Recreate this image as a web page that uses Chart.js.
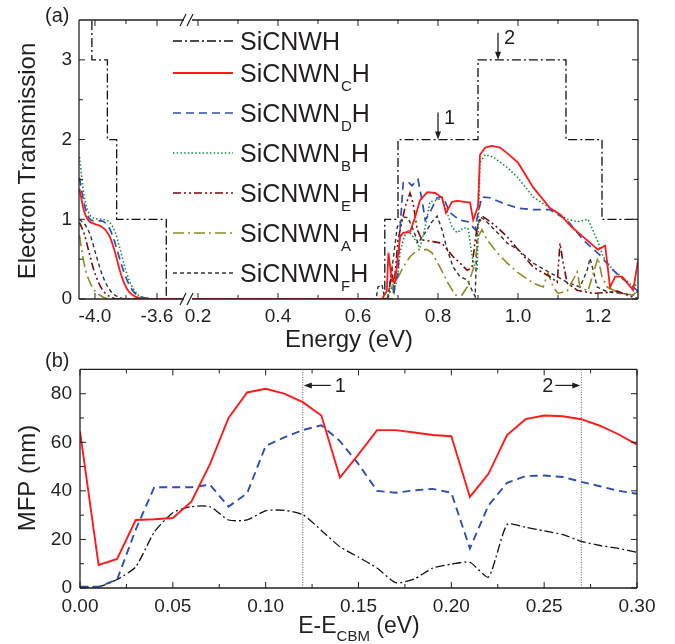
<!DOCTYPE html>
<html>
<head>
<meta charset="utf-8">
<script src="https://cdn.jsdelivr.net/npm/chart.js@4.4.0/dist/chart.umd.min.js"></script>
<style>
  body { margin: 0; background: #fff; }
  #wrap { position: relative; width: 675px; height: 644px; }
  canvas { position: absolute; left: 0; }
</style>
</head>
<body>
<div id="wrap">
  <canvas id="tb" width="675" height="294" style="top:350px"></canvas>
  <canvas id="ta" width="675" height="362" style="top:0"></canvas>
</div>
<script>
Chart.defaults.font.family = "'Liberation Sans', Arial, sans-serif";
Chart.defaults.color = '#231f20';

// ---- panel (a): electron transmission, energy axis broken in two ----
// left part of the energy axis (eV)
const hLeft = [[-4.02,3.7],[-4.02,3],[-3.92,3],[-3.92,2],[-3.86,2],[-3.86,1],[-3.54,1],[-3.54,0],[-3.42,0]]
const cLeft = [[-4.10,1.38],[-4.07,1.1],[-4.04,0.98],[-4.0,0.94],[-3.96,0.91],[-3.93,0.86],[-3.90,0.76],[-3.87,0.58],[-3.84,0.36],[-3.81,0.19],[-3.78,0.09],[-3.74,0.03],[-3.70,0.01],[-3.65,0],[-3.42,0]]
const dLeft = [[-4.10,1.52],[-4.07,1.2],[-4.04,1.02],[-4.0,0.98],[-3.96,0.98],[-3.93,0.95],[-3.90,0.86],[-3.87,0.7],[-3.84,0.5],[-3.81,0.32],[-3.78,0.18],[-3.75,0.09],[-3.71,0.03],[-3.66,0.01],[-3.6,0],[-3.42,0]]
const bLeft = [[-4.10,1.78],[-4.07,1.3],[-4.04,1.08],[-4.0,1.01],[-3.96,1.0],[-3.93,0.99],[-3.90,0.95],[-3.87,0.84],[-3.84,0.64],[-3.81,0.42],[-3.78,0.24],[-3.75,0.12],[-3.72,0.05],[-3.68,0.01],[-3.64,0],[-3.42,0]]
const eLeft = [[-4.10,0.96],[-4.07,0.82],[-4.04,0.6],[-4.01,0.38],[-3.98,0.22],[-3.95,0.11],[-3.92,0.05],[-3.88,0.01],[-3.84,0],[-3.42,0]]
const aLeft = [[-4.10,0.8],[-4.08,0.55],[-4.06,0.36],[-4.03,0.2],[-4.0,0.1],[-3.97,0.05],[-3.93,0.01],[-3.88,0],[-3.42,0]]
const fLeft = [[-4.10,1.0],[-4.06,0.92],[-4.03,0.8],[-4.0,0.6],[-3.97,0.4],[-3.94,0.24],[-3.91,0.13],[-3.88,0.06],[-3.84,0.02],[-3.8,0],[-3.42,0]]

// right part of the energy axis (eV)
const hRight = [[0.18,0],[0.667,0],[0.667,1],[0.70,1],[0.70,2],[0.90,2],[0.90,3],[1.12,3],[1.12,2],[1.21,2],[1.21,1],[1.31,1]]
const cRight = [[0.18,0],[0.66,0],[0.672,0.1],[0.676,0.58],[0.685,0.22],[0.693,0.22],[0.705,0.78],[0.713,0.83],[0.73,0.84],[0.743,1.03],[0.755,1.24],[0.773,1.34],[0.793,1.33],[0.81,1.27],[0.82,1.08],[0.835,1.22],[0.848,1.23],[0.88,1.21],[0.888,0.99],[0.9,1.16],[0.905,1.81],[0.918,1.9],[0.935,1.92],[0.955,1.9],[0.973,1.83],[1.0,1.71],[1.038,1.4],[1.08,1.14],[1.105,1.06],[1.135,0.9],[1.163,0.78],[1.2,0.62],[1.218,0.67],[1.23,0.15],[1.243,0.28],[1.26,0.28],[1.288,0.11],[1.3,0.48]]
const dRight = [[0.18,0],[0.685,0],[0.70,0.33],[0.705,0.87],[0.713,1.46],[0.725,1.47],[0.735,1.42],[0.743,1.47],[0.75,1.5],[0.76,1.24],[0.768,0.99],[0.78,1.09],[0.798,1.27],[0.813,1.28],[0.83,1.08],[0.855,0.99],[0.875,0.97],[0.893,0.87],[0.9,1.08],[0.91,1.28],[0.93,1.27],[0.963,1.2],[1.0,1.14],[1.038,1.12],[1.08,1.12],[1.123,0.99],[1.163,0.74],[1.205,0.55],[1.23,0.4],[1.255,0.28],[1.288,0.15],[1.3,0.1]]
const bRight = [[0.18,0],[0.67,0],[0.68,0.1],[0.69,0.2],[0.7,0.3],[0.705,0.58],[0.713,0.74],[0.723,0.87],[0.738,0.78],[0.755,0.64],[0.768,0.9],[0.78,1.22],[0.798,1.24],[0.81,1.27],[0.823,1.08],[0.835,0.9],[0.848,0.83],[0.863,0.89],[0.875,0.89],[0.888,0.45],[0.898,0.36],[0.905,1.71],[0.918,1.81],[0.938,1.78],[0.973,1.65],[1.0,1.52],[1.038,1.28],[1.08,1.14],[1.123,1.0],[1.148,0.97],[1.175,1.0],[1.198,0.74],[1.213,0.53],[1.238,0.36],[1.27,0.24],[1.288,0.15],[1.3,0.2]]
const eRight = [[0.18,0],[0.675,0],[0.685,0.36],[0.69,0.15],[0.70,0.74],[0.718,1.16],[0.73,1.33],[0.738,1.2],[0.748,0.87],[0.76,0.74],[0.788,0.72],[0.81,0.7],[0.823,0.62],[0.838,0.53],[0.855,0.45],[0.873,0.36],[0.885,0.39],[0.893,0.74],[0.9,0.95],[0.913,1.03],[0.925,0.99],[0.948,0.9],[0.973,0.78],[1.0,0.62],[1.038,0.4],[1.08,0.28],[1.098,0.21],[1.105,0.7],[1.113,0.45],[1.123,0.2],[1.148,0.11],[1.188,0.07],[1.22,0.08],[1.248,0.1],[1.288,0.02],[1.3,0.01]]
const aRight = [[0.18,0],[0.675,0],[0.685,0.15],[0.69,0.08],[0.698,0.25],[0.713,0.4],[0.73,0.53],[0.75,0.62],[0.773,0.62],[0.785,0.58],[0.805,0.4],[0.825,0.2],[0.843,0.05],[0.86,0.05],[0.873,0.15],[0.885,0.33],[0.893,0.45],[0.9,0.78],[0.91,0.87],[0.923,0.74],[0.948,0.58],[0.973,0.45],[1.0,0.33],[1.038,0.2],[1.063,0.15],[1.075,0.33],[1.088,0.15],[1.1,0.07],[1.123,0.1],[1.148,0.34],[1.155,0.15],[1.175,0.1],[1.2,0.52],[1.21,0.28],[1.223,0.15],[1.255,0.07],[1.288,0.05],[1.3,0.11]]
const fRight = [[0.18,0],[0.645,0],[0.65,0.15],[0.66,0.18],[0.665,0.05],[0.675,0.02],[0.688,0.5],[0.698,0.9],[0.713,1.03],[0.725,1.02],[0.738,0.87],[0.75,0.7],[0.773,0.87],[0.785,0.97],[0.798,1.04],[0.81,0.87],[0.823,0.62],[0.838,0.4],[0.855,0.28],[0.873,0.24],[0.885,0.11],[0.893,0.03],[0.898,0.87],[0.905,1.03],[0.918,0.99],[0.935,0.9],[0.955,0.8],[0.973,0.7],[1.0,0.62],[1.038,0.45],[1.08,0.33],[1.123,0.21],[1.155,0.15],[1.173,0.36],[1.18,0.51],[1.188,0.36],[1.198,0.15],[1.223,0.09],[1.26,0.07],[1.288,0.05],[1.3,0.1]]

const tTicks = [0, 0.5, 1, 1.5, 2, 2.5, 3]
const leftTicks = [-4.0, -3.8, -3.6]
const leftLabels = [-4.0, -3.6]
const rightTicks = [0.2, 0.3, 0.4, 0.5, 0.6, 0.7, 0.8, 0.9, 1.0, 1.1, 1.2]
const rightLabels = [0.2, 0.4, 0.6, 0.8, 1.0, 1.2]

// ---- panel (b): mean free path ----
const dE = [0,0.01,0.02,0.03,0.04,0.05,0.06,0.07,0.08,0.09,0.10,0.11,0.12,0.13,0.14,0.15,0.16,0.17,0.18,0.19,0.20,0.21,0.22,0.23,0.24,0.25,0.26,0.27,0.28,0.29,0.30]
const mfpH = [0.5,0.5,3.5,8.7,23,31,33.5,33.5,28,28,31.8,32,30.2,23.7,17,12.7,8.2,2.2,3.7,8.2,9.8,10.6,4.5,26.1,25,23.5,22,19.2,17.5,16.3,14.7]
const mfpC = [64.5,9.5,12,28,28.3,28.8,35.5,51,70,80.5,82,80,76.5,71,45.5,55,65,65,64,63,62.5,37.5,47,63,69.5,71,70.7,69.5,66.8,63.3,59]
const mfpD = [0.5,0.5,3.5,24,41.5,41.5,41.5,42.5,33.5,39,58.5,62,65,67,60.5,51,40,39.2,40.2,40.8,39.2,16.3,34,43.3,46.1,46.3,45.7,43.7,41.9,40,38.8]
const markE = [0.12, 0.27]
const mfpXTicks = [0,0.025,0.05,0.075,0.1,0.125,0.15,0.175,0.2,0.225,0.25,0.275,0.3]
const mfpXLabels = [0,0.05,0.1,0.15,0.2,0.25,0.3]
const mfpYTicks = [0,10,20,30,40,50,60,70,80]
const mfpYLabels = [0,20,40,60,80]

const styles = {
  H: { color: '#111111', dash: [9,3,2,3], width: 1.3 },
  C: { color: '#ff1a1a', dash: [], width: 1.8 },
  D: { color: '#2c50b0', dash: [8,5], width: 1.7 },
  B: { color: '#10903a', dash: [1.5,2.2], width: 1.6 },
  E: { color: '#7a0a0a', dash: [8,3,2,3,2,3], width: 1.6 },
  A: { color: '#8c8c28', dash: [11,4,2,4], width: 1.6 },
  F: { color: '#333333', dash: [4,3], width: 1.4 }
}
const legendRows = [
  ['H', 'SiCNWH', '', ''],
  ['C', 'SiCNWN', 'C', 'H'],
  ['D', 'SiCNWN', 'D', 'H'],
  ['B', 'SiCNWN', 'B', 'H'],
  ['E', 'SiCNWN', 'E', 'H'],
  ['A', 'SiCNWN', 'A', 'H'],
  ['F', 'SiCNWN', 'F', 'H']
]
const legendBase = [50, 82, 122, 162, 202, 242, 282]

const near = (list, v) => list.some(t => Math.abs(t - v) < 1e-6)
const pts = arr => arr.map(p => ({ x: p[0], y: p[1] }))

function lineSet (key, data, axis, smooth) {
  const s = styles[key]
  return {
    data: pts(data), xAxisID: axis,
    borderColor: s.color, borderDash: s.dash, borderWidth: s.width,
    pointRadius: 0, fill: false,
    cubicInterpolationMode: smooth ? 'monotone' : 'default', tension: 0
  }
}

const topSets = [
  lineSet('C', cRight, 'xR'), lineSet('C', cLeft, 'xL', true),
  lineSet('D', dRight, 'xR'), lineSet('D', dLeft, 'xL', true),
  lineSet('B', bRight, 'xR'), lineSet('B', bLeft, 'xL', true),
  lineSet('H', hRight, 'xR'), lineSet('H', hLeft, 'xL'),
  lineSet('E', eRight, 'xR'), lineSet('E', eLeft, 'xL', true),
  lineSet('A', aRight, 'xR'), lineSet('A', aLeft, 'xL', true),
  lineSet('F', fRight, 'xR'), lineSet('F', fLeft, 'xL', true)
]

const tickFont = { size: 19 }

function fixedTicks (list) {
  return s => { s.ticks = list.map(v => ({ value: v })) }
}

function arrow (ctx, x1, y1, x2, y2) {
  const ang = Math.atan2(y2 - y1, x2 - x1)
  ctx.beginPath()
  ctx.moveTo(x1, y1)
  ctx.lineTo(x2 - 6 * Math.cos(ang), y2 - 6 * Math.sin(ang))
  ctx.stroke()
  ctx.beginPath()
  ctx.moveTo(x2, y2)
  ctx.lineTo(x2 - 8 * Math.cos(ang) + 3 * Math.sin(ang), y2 - 8 * Math.sin(ang) - 3 * Math.cos(ang))
  ctx.lineTo(x2 - 8 * Math.cos(ang) - 3 * Math.sin(ang), y2 - 8 * Math.sin(ang) + 3 * Math.cos(ang))
  ctx.closePath()
  ctx.fill()
}

// box, inward ticks on all four sides and the axis break
function framePlugin (breakAxis) {
  return {
    id: 'frame',
    afterDatasetsDraw (chart) {
      const { ctx, chartArea: a } = chart
      const gap = breakAxis ? chart.scales[breakAxis].right : null
      ctx.save()
      if (gap) {
        ctx.fillStyle = '#fff'
        ctx.fillRect(gap - 4, a.bottom - 2, 8, 4)
      }
      ctx.strokeStyle = '#231f20'
      ctx.lineWidth = 1.3
      ctx.beginPath()
      ctx.moveTo(a.left, a.top); ctx.lineTo(a.left, a.bottom)
      ctx.moveTo(a.right, a.top); ctx.lineTo(a.right, a.bottom)
      for (const y of [a.top, a.bottom]) {
        if (gap) {
          ctx.moveTo(a.left, y); ctx.lineTo(gap - 4, y)
          ctx.moveTo(gap + 4, y); ctx.lineTo(a.right, y)
        } else {
          ctx.moveTo(a.left, y); ctx.lineTo(a.right, y)
        }
      }
      ctx.stroke()

      ctx.lineWidth = 1
      ctx.beginPath()
      Object.values(chart.scales).forEach(scale => {
        scale.ticks.forEach(t => {
          const len = t.label ? 6 : 4
          const p = scale.getPixelForValue(t.value)
          if (scale.isHorizontal()) {
            ctx.moveTo(p, a.bottom); ctx.lineTo(p, a.bottom - len)
            ctx.moveTo(p, a.top); ctx.lineTo(p, a.top + len)
          } else {
            ctx.moveTo(a.left, p); ctx.lineTo(a.left + len, p)
            ctx.moveTo(a.right, p); ctx.lineTo(a.right - len, p)
          }
        })
      })
      ctx.stroke()

      if (gap) {
        ctx.lineWidth = 1.2
        ctx.beginPath()
        for (const y of [a.top, a.bottom]) {
          ctx.moveTo(gap - 8, y + 6); ctx.lineTo(gap - 2, y - 6)
          ctx.moveTo(gap - 1, y + 6); ctx.lineTo(gap + 5, y - 6)
        }
        ctx.stroke()
      }
      ctx.restore()
    }
  }
}

const topDecor = {
  id: 'topDecor',
  afterDraw (chart) {
    const { ctx } = chart
    const xR = chart.scales.xR
    const y = chart.scales.y
    ctx.save()
    ctx.fillStyle = '#231f20'
    ctx.strokeStyle = '#231f20'
    const fam = "'Liberation Sans', Arial, sans-serif"

    // legend
    legendRows.forEach((row, i) => {
      const s = styles[row[0]]
      const b = legendBase[i]
      ctx.save()
      ctx.strokeStyle = s.color
      ctx.lineWidth = s.width
      ctx.setLineDash(s.dash)
      ctx.beginPath()
      ctx.moveTo(173, b - 9); ctx.lineTo(233, b - 9)
      ctx.stroke()
      ctx.restore()
      ctx.textAlign = 'left'
      ctx.textBaseline = 'alphabetic'
      ctx.font = '25px ' + fam
      ctx.fillText(row[1], 240, b)
      if (row[2]) {
        let x = 240 + ctx.measureText(row[1]).width
        ctx.font = '15px ' + fam
        ctx.fillText(row[2], x + 1, b + 9)
        x += ctx.measureText(row[2]).width + 1
        ctx.font = '25px ' + fam
        ctx.fillText(row[3], x, b)
      }
    })

    // arrows marking the two energies used in (b)
    ctx.lineWidth = 1.3
    const marks = [[0.8, 2, '1'], [0.95, 3, '2']]
    ctx.font = '20px ' + fam
    marks.forEach(m => {
      const px = xR.getPixelForValue(m[0])
      const py = y.getPixelForValue(m[1])
      arrow(ctx, px, py - 27, px, py)
      ctx.fillText(m[2], px + 6, py - 16)
    })

    // titles
    ctx.font = '20px ' + fam
    ctx.fillText('(a)', 45, 22)
    ctx.font = '24px ' + fam
    ctx.textAlign = 'center'
    ctx.fillText('Energy (eV)', 349, 347)
    ctx.translate(35, 161)
    ctx.rotate(-Math.PI / 2)
    ctx.fillText('Electron Transmission', 0, 0)
    ctx.restore()
  }
}

new Chart(document.getElementById('ta'), {
  type: 'line',
  data: { datasets: topSets },
  options: {
    responsive: false,
    animation: false,
    events: [],
    layout: { padding: { left: 0, right: 37, top: 20, bottom: 0 } },
    plugins: { legend: { display: false }, tooltip: { enabled: false } },
    scales: {
      xL: {
        type: 'linear', position: 'bottom', stack: 'e', stackWeight: 109,
        min: -4.103, max: -3.4,
        afterBuildTicks: fixedTicks(leftTicks),
        afterFit: s => { s.height = 63 },
        grid: { display: false, drawTicks: false }, border: { display: false },
        ticks: { font: tickFont, padding: 6, autoSkip: false, maxRotation: 0,
          callback: v => near(leftLabels, v) ? v.toFixed(1) : '' }
      },
      xR: {
        type: 'linear', position: 'bottom', stack: 'e', stackWeight: 450,
        min: 0.175, max: 1.3,
        afterBuildTicks: fixedTicks(rightTicks),
        afterFit: s => { s.height = 63 },
        grid: { display: false, drawTicks: false }, border: { display: false },
        ticks: { font: tickFont, padding: 6, autoSkip: false, maxRotation: 0,
          callback: v => near(rightLabels, v) ? v.toFixed(1) : '' }
      },
      y: {
        type: 'linear', min: 0, max: 3.5,
        afterBuildTicks: fixedTicks(tTicks),
        afterFit: s => { s.width = 79 },
        grid: { display: false, drawTicks: false }, border: { display: false },
        ticks: { font: tickFont, padding: 7,
          callback: v => Number.isInteger(v) ? String(v) : '' }
      }
    }
  },
  plugins: [framePlugin('xL'), topDecor]
})

const bottomDecor = {
  id: 'bottomDecor',
  afterDraw (chart) {
    const { ctx, chartArea: a } = chart
    const x = chart.scales.x
    const fam = "'Liberation Sans', Arial, sans-serif"
    ctx.save()
    ctx.strokeStyle = '#555'
    ctx.lineWidth = 1
    ctx.setLineDash([1, 1.5])
    markE.forEach(e => {
      const px = x.getPixelForValue(e)
      ctx.beginPath()
      ctx.moveTo(px, a.top); ctx.lineTo(px, a.bottom)
      ctx.stroke()
    })
    ctx.setLineDash([])
    ctx.strokeStyle = '#231f20'
    ctx.fillStyle = '#231f20'
    ctx.lineWidth = 1.2
    const p1 = x.getPixelForValue(markE[0])
    const p2 = x.getPixelForValue(markE[1])
    arrow(ctx, p1 + 28, a.top + 16, p1 + 1, a.top + 16)
    arrow(ctx, p2 - 26, a.top + 16, p2 - 1, a.top + 16)
    ctx.font = '20px ' + fam
    ctx.textAlign = 'left'
    ctx.fillText('1', p1 + 32, a.top + 23)
    ctx.textAlign = 'right'
    ctx.fillText('2', p2 - 28, a.top + 23)

    ctx.textAlign = 'left'
    ctx.fillText('(b)', 45, 17)
    // E-E_CBM (eV)
    ctx.font = '23px ' + fam
    const w1 = ctx.measureText('E-E').width
    ctx.font = '15px ' + fam
    const w2 = ctx.measureText('CBM').width
    ctx.font = '23px ' + fam
    const w3 = ctx.measureText(' (eV)').width
    let tx = 359 - (w1 + w2 + w3) / 2
    ctx.fillText('E-E', tx, 283)
    tx += w1
    ctx.font = '15px ' + fam
    ctx.fillText('CBM', tx, 291)
    tx += w2
    ctx.font = '23px ' + fam
    ctx.fillText(' (eV)', tx, 283)

    ctx.font = '24px ' + fam
    ctx.textAlign = 'center'
    ctx.translate(35, 128)
    ctx.rotate(-Math.PI / 2)
    ctx.fillText('MFP (nm)', 0, 0)
    ctx.restore()
  }
}

function mfpSet (key, vals, tension) {
  const s = styles[key]
  return {
    data: dE.map((e, i) => ({ x: e, y: vals[i] })),
    borderColor: s.color, borderDash: s.dash, borderWidth: key === 'H' ? 1.3 : 1.9,
    pointRadius: 0, fill: false, tension: tension
  }
}

new Chart(document.getElementById('tb'), {
  type: 'line',
  data: { datasets: [mfpSet('C', mfpC, 0), mfpSet('D', mfpD, 0), mfpSet('H', mfpH, 0.2)] },
  options: {
    responsive: false,
    animation: false,
    events: [],
    layout: { padding: { left: 0, right: 38, top: 17, bottom: 0 } },
    plugins: { legend: { display: false }, tooltip: { enabled: false } },
    scales: {
      x: {
        type: 'linear', min: 0, max: 0.3,
        afterBuildTicks: fixedTicks(mfpXTicks),
        afterFit: s => { s.height = 56 },
        grid: { display: false, drawTicks: false }, border: { display: false },
        ticks: { font: tickFont, padding: 7, autoSkip: false, maxRotation: 0,
          callback: v => near(mfpXLabels, v) ? v.toFixed(2) : '' }
      },
      y: {
        type: 'linear', min: 0, max: 90,
        afterBuildTicks: fixedTicks(mfpYTicks),
        afterFit: s => { s.width = 80 },
        grid: { display: false, drawTicks: false }, border: { display: false },
        ticks: { font: tickFont, padding: 8,
          callback: v => near(mfpYLabels, v) ? String(v) : '' }
      }
    }
  },
  plugins: [framePlugin(null), bottomDecor]
})
</script>
</body>
</html>
